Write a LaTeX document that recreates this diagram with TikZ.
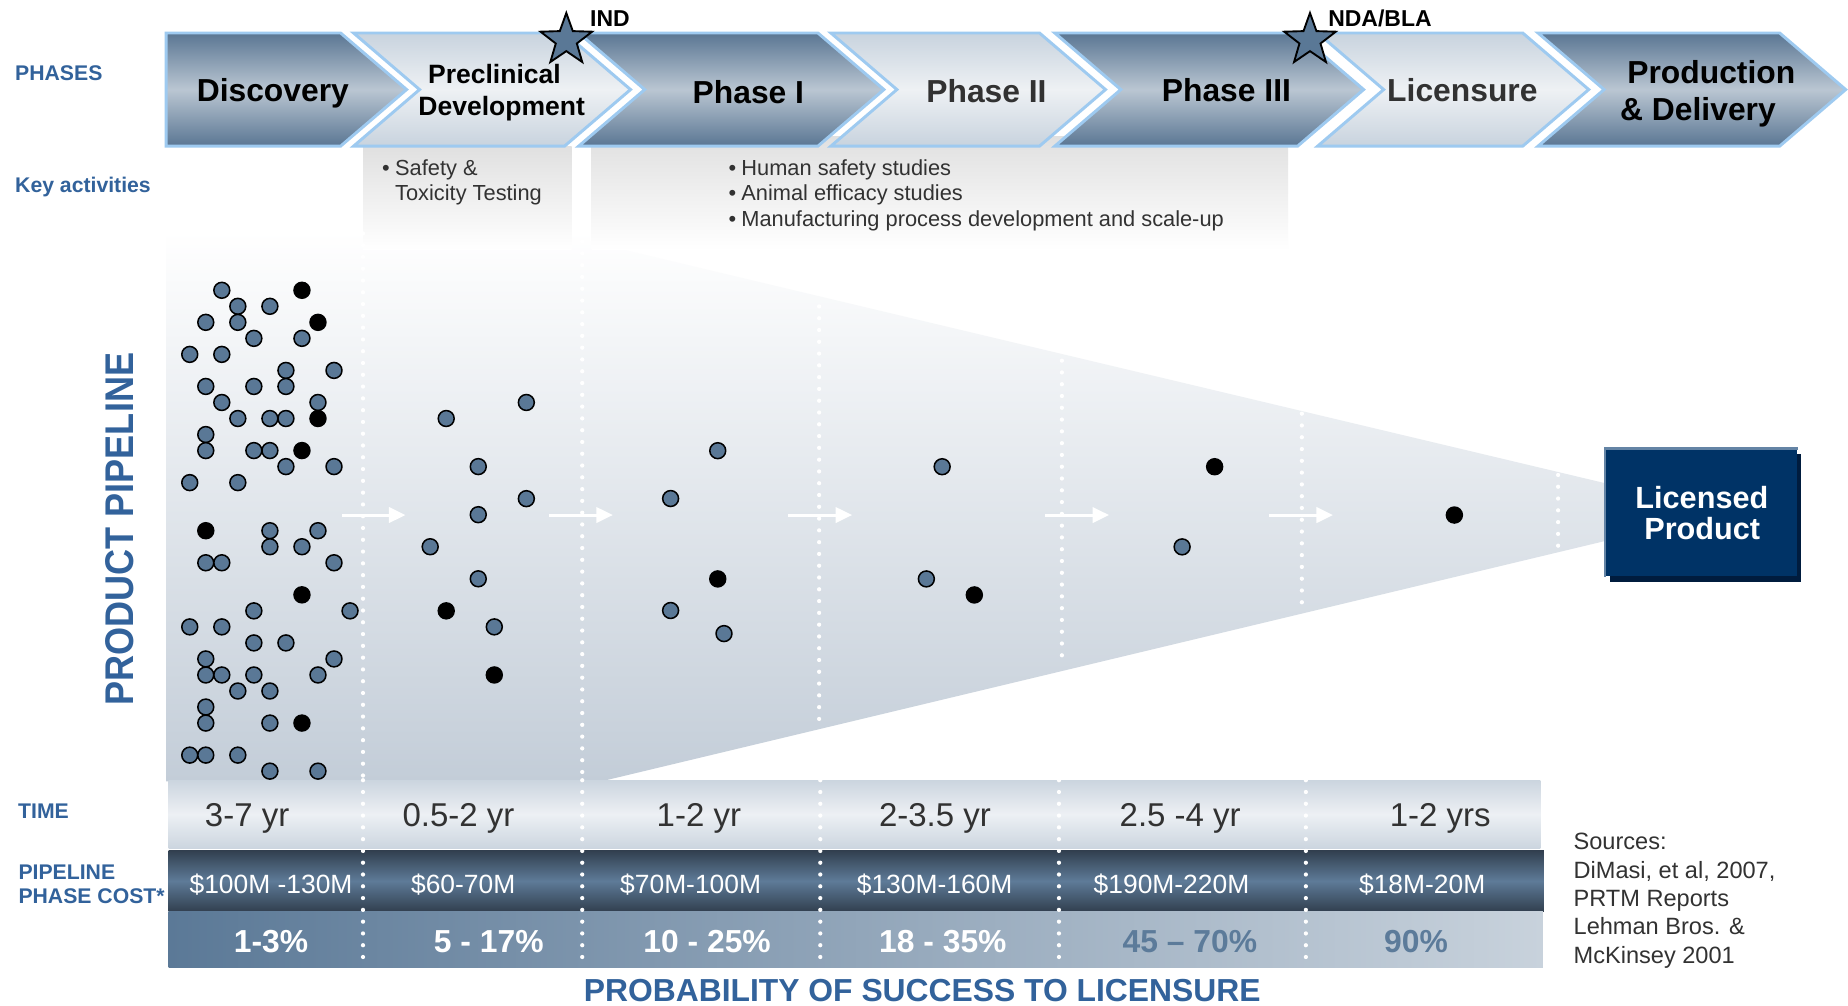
\documentclass[tikz,border=0pt]{standalone}
\usepackage{fontspec}
\setmainfont{Liberation Sans}
\usetikzlibrary{shapes.geometric,arrows.meta}
\definecolor{lblue}{RGB}{50,98,155}
\definecolor{chdark}{RGB}{90,118,147}
\definecolor{chmid}{RGB}{186,198,210}
\definecolor{chlt}{RGB}{200,211,222}
\definecolor{chltmid}{RGB}{238,241,244}
\definecolor{chedge}{RGB}{158,202,240}
\definecolor{dotblue}{RGB}{90,120,150}
\definecolor{txtgray}{RGB}{50,50,50}
\definecolor{navy}{RGB}{0,51,102}
\definecolor{navyshadow}{RGB}{0,28,62}
\definecolor{navyedge}{RGB}{100,132,165}
\definecolor{funbot}{RGB}{195,205,216}
\definecolor{actgray}{RGB}{224,224,224}
\definecolor{timeedge}{RGB}{203,213,223}
\definecolor{timemid}{RGB}{237,240,244}
\definecolor{costedge}{RGB}{50,64,80}
\definecolor{costmid}{RGB}{94,123,152}
\definecolor{probleft}{RGB}{91,121,151}
\definecolor{probright}{RGB}{200,210,220}
\definecolor{probtxt}{RGB}{92,123,154}
\newcommand{\fsz}[2]{\fontsize{#1}{#2}\selectfont}
\begin{document}
\begin{tikzpicture}[x=1pt,y=-1pt,
 chev/.style={draw=chedge,line width=2.5pt,line join=miter},
 darkch/.style={chev,top color=chdark,bottom color=chdark,middle color=chmid},
 ltch/.style={chev,top color=chlt,bottom color=chlt,middle color=chltmid},
 phtxt/.style={font=\bfseries\fsz{27}{30},inner sep=0pt,anchor=base},
 pretxt/.style={font=\bfseries\fsz{22.5}{27},inner sep=0pt,anchor=base},
 milestone/.style={font=\bfseries\fsz{19.5}{22},inner sep=0pt,anchor=base west},
 mstar/.style={star,star points=5,star point ratio=2.45,minimum size=46pt,inner sep=0pt,fill=dotblue,draw=black,line width=1.6pt},
 lbl/.style={font=\bfseries\fsz{18}{21},text=lblue,inner sep=0pt,anchor=base west},
 act/.style={font=\fsz{18.5}{22},text=txtgray,inner sep=0pt,anchor=base west},
 bul/.style={font=\fsz{18.5}{22},text=txtgray,inner sep=0pt,anchor=base east},
 kabox/.style={top color=actgray,bottom color=white},
 pdot/.style={circle,fill=dotblue,draw=black,line width=1.3pt,minimum size=13.5pt,inner sep=0pt},
 kdot/.style={pdot,fill=black},
 sepline/.style={white,line width=3.6pt,line cap=round,dash pattern=on 0pt off 10pt},
 warr/.style={white,line width=2.5pt,-{Triangle[length=14pt,width=13pt]}},
 timetxt/.style={font=\fsz{28}{32},text=txtgray,inner sep=0pt,anchor=base},
 costtxt/.style={font=\fsz{22.4}{26},text=white,inner sep=0pt,anchor=base},
 probtxt/.style={font=\bfseries\fsz{27}{30},inner sep=0pt,anchor=base},
 srctxt/.style={font=\fsz{20}{24},text=txtgray,inner sep=0pt,anchor=base west}
]
\useasboundingbox[fill=white] (0,0) rectangle (1568,853);

% funnel
\path[top color=white,bottom color=funbot]
  (141,196) -- (500,196) -- (500,205) -- (1362,410) -- (1362,459) -- (510,663) -- (141,663) -- cycle;

% key activity boxes
\path[kabox] (308,124) rectangle (485,212);
\path[kabox] (502,116) rectangle (1093,212);

% chevrons
\path[darkch] (141,28) -- (289,28) -- (345,76) -- (289,124) -- (141,124) -- cycle;
\path[ltch] (300,28) -- (479,28) -- (535,76) -- (479,124) -- (300,124) -- (356,76) -- cycle;
\path[darkch] (491,28) -- (694,28) -- (750,76) -- (694,124) -- (491,124) -- (547,76) -- cycle;
\path[ltch] (705,28) -- (882,28) -- (938,76) -- (882,124) -- (705,124) -- (761,76) -- cycle;
\path[darkch] (895,28) -- (1101,28) -- (1157,76) -- (1101,124) -- (895,124) -- (951,76) -- cycle;
\path[ltch] (1118,28) -- (1292,28) -- (1348,76) -- (1292,124) -- (1118,124) -- (1174,76) -- cycle;
\path[darkch] (1305,28) -- (1510,28) -- (1566,76) -- (1510,124) -- (1305,124) -- (1361,76) -- cycle;

% phase texts
\node[phtxt] (tdisc) at (231.5,86.5) {Discovery};
\node[pretxt] (tpre1) at (419.5,70.7) {Preclinical};
\node[pretxt] (tpre2) at (425.7,97.6) {Development};
\node[phtxt] (tph1) at (635,87.5) {Phase I};
\node[phtxt,text=txtgray] (tph2) at (837,87) {Phase II};
\node[phtxt] (tph3) at (1040.6,86.5) {Phase III};
\node[phtxt,text=txtgray] (tlic) at (1240.8,86.3) {Licensure};
\node[phtxt] (tprod1) at (1452,71) {Production};
\node[phtxt] (tprod2) at (1440.7,102) {\& Delivery};

% milestones
\node[mstar] (sind) at (480.5,34) {};
\node[milestone] (tind) at (500.6,22.6) {IND};
\node[mstar] (snda) at (1111.5,34) {};
\node[milestone] (tnda) at (1126.8,22.6) {NDA/BLA};

% key activities text
\node[bul] (b1) at (331,148.5) {\textbullet};
\node[act] (k1) at (335.1,148.5) {Safety \&};
\node[act] (k2) at (335.1,170.5) {Toxicity Testing};
\node[bul] (b2) at (625,148.5) {\textbullet};
\node[act] (k3) at (628.9,148.5) {Human safety studies};
\node[bul] (b3) at (625,170.5) {\textbullet};
\node[act] (k4) at (628.9,170.5) {Animal efficacy studies};
\node[bul] (b4) at (625,192.5) {\textbullet};
\node[act] (k5) at (628.9,192.5) {Manufacturing process development and scale-up};

% separators in funnel
\draw[sepline] (308,198) -- (308,822);
\draw[sepline] (494,205) -- (494,822);
\draw[sepline] (695,260) -- (695,617);
\draw[sepline] (901,306) -- (901,562);
\draw[sepline] (1104.6,351) -- (1104.6,515);
\draw[sepline] (1322,403) -- (1322,465);

% arrows
\coordinate (a1s) at (290,437); \coordinate (a1e) at (344,437);
\coordinate (a2s) at (466,437); \coordinate (a2e) at (520,437);
\coordinate (a3s) at (669,437); \coordinate (a3e) at (723,437);
\coordinate (a4s) at (887,437); \coordinate (a4e) at (941,437);
\coordinate (a5s) at (1077,437); \coordinate (a5e) at (1131,437);
\draw[warr] (a1s) -- (a1e);
\draw[warr] (a2s) -- (a2e);
\draw[warr] (a3s) -- (a3e);
\draw[warr] (a4s) -- (a4e);
\draw[warr] (a5s) -- (a5e);

% discovery and preclinical dots
\foreach \i/\j [count=\k] in {2/0,3/1,5/1,1/2,3/2,4/3,7/3,0/4,2/4,6/5,9/5,1/6,4/6,6/6,2/7,8/7,3/8,5/8,6/8,1/9,1/10,4/10,5/10,6/11,9/11,0/12,3/12,5/15,8/15,5/16,7/16,1/17,2/17,9/17,4/20,10/20,0/21,2/21,4/22,6/22,1/23,9/23,1/24,2/24,4/24,8/24,3/25,5/25,1/26,1/27,5/27,0/29,1/29,3/29,5/30,8/30,21/7,16/8,18/11,21/13,18/14,15/16,18/18,19/21}
  \node[pdot] (gb\k) at ({161+13.6*\i},{246.3+13.6*\j}) {};
\foreach \i/\j [count=\k] in {7/0,8/2,8/8,7/10,1/15,7/19,7/27,16/20,19/24}
  \node[kdot] (gk\k) at ({161+13.6*\i},{246.3+13.6*\j}) {};
% later phase dots
\node[pdot] (p1a) at (609,382.4) {};
\node[pdot] (p1b) at (569,423) {};
\node[kdot] (p1c) at (609,491.2) {};
\node[pdot] (p1d) at (569,518) {};
\node[pdot] (p1e) at (614.3,537.6) {};
\node[pdot] (p2a) at (799.4,396) {};
\node[pdot] (p2b) at (786,491.2) {};
\node[kdot] (p2c) at (826.7,504.8) {};
\node[kdot] (p3a) at (1030.6,396) {};
\node[pdot] (p3b) at (1003,464) {};
\node[kdot] (p4a) at (1234,437) {};

% licensed product
\fill[navyshadow] (1366,385) rectangle (1528.5,493.5);
\node[fill=navy,minimum width=163pt,minimum height=108pt,inner sep=0pt] (lic) at (1443.5,435) {};
\draw[navyedge,line width=2.5pt] (lic.south west) -- (lic.north west) -- (lic.north east);
\node[phtxt,text=white,font=\bfseries\fsz{26}{30}] (lic1) at (1444,431.3) {Licensed};
\node[phtxt,text=white,font=\bfseries\fsz{26}{30}] (lic2) at (1444.3,457.6) {Product};

% bands
\path[top color=timeedge,bottom color=timeedge,middle color=timemid] (143,662) rectangle (1307,720);
\path[top color=costedge,bottom color=costedge,middle color=costmid] (143,722) rectangle (1310,773);
\path[left color=probleft,right color=probright] (143,773) rectangle (1309,821);
\draw[sepline] (308,662) -- (308,822);
\draw[sepline] (494,662) -- (494,822);
\draw[sepline] (696,662) -- (696,822);
\draw[sepline] (898.5,662) -- (898.5,822);
\draw[sepline] (1108,662) -- (1108,822);

\node[timetxt] (t1) at (209.7,701.4) {3-7 yr};
\node[timetxt] (t2) at (389,701.4) {0.5-2 yr};
\node[timetxt] (t3) at (593,701.4) {1-2 yr};
\node[timetxt] (t4) at (793.3,701.4) {2-3.5 yr};
\node[timetxt] (t5) at (1001.4,701.4) {2.5 -4 yr};
\node[timetxt] (t6) at (1222,701.4) {1-2 yrs};

\node[costtxt] (c1) at (230,758) {\$100M -130M};
\node[costtxt] (c2) at (393,758) {\$60-70M};
\node[costtxt] (c3) at (586,758) {\$70M-100M};
\node[costtxt] (c4) at (793,758) {\$130M-160M};
\node[costtxt] (c5) at (994,758) {\$190M-220M};
\node[costtxt] (c6) at (1206.7,758) {\$18M-20M};

\node[probtxt,text=white] (r1) at (230,808.3) {1-3\%};
\node[probtxt,text=white] (r2) at (414.7,808.3) {5 - 17\%};
\node[probtxt,text=white] (r3) at (600,808.3) {10 - 25\%};
\node[probtxt,text=white] (r4) at (800,808.3) {18 - 35\%};
\node[probtxt,text=probtxt] (r5) at (1009.6,808.3) {45 – 70\%};
\node[probtxt,text=probtxt] (r6) at (1201.5,808.3) {90\%};

\node[probtxt,text=lblue] (foot) at (782.5,850) {PROBABILITY OF SUCCESS TO LICENSURE};

% sources
\node[srctxt] (s1) at (1335,721.2) {Sources:};
\node[srctxt] (s2) at (1335,745.3) {DiMasi, et al, 2007,};
\node[srctxt] (s3) at (1335,769.3) {PRTM Reports};
\node[srctxt] (s4) at (1335,793.3) {Lehman Bros. \&};
\node[srctxt] (s5) at (1335,817.3) {McKinsey 2001};

% left labels
\node[lbl] (lph) at (12.7,68.4) {PHASES};
\node[lbl] (lka) at (12.7,163.4) {Key activities};
\node[lbl] (ltime) at (15.2,694.4) {TIME};
\node[lbl] (lpip) at (15.5,746) {PIPELINE};
\node[lbl] (lcost) at (15.5,766.4) {PHASE COST*};
\node[rotate=90,font=\bfseries\fsz{34}{40},text=lblue,inner sep=0pt] (pp) at (101.2,449) {\scalebox{0.9}[1]{PRODUCT PIPELINE}};
\end{tikzpicture}
\end{document}
